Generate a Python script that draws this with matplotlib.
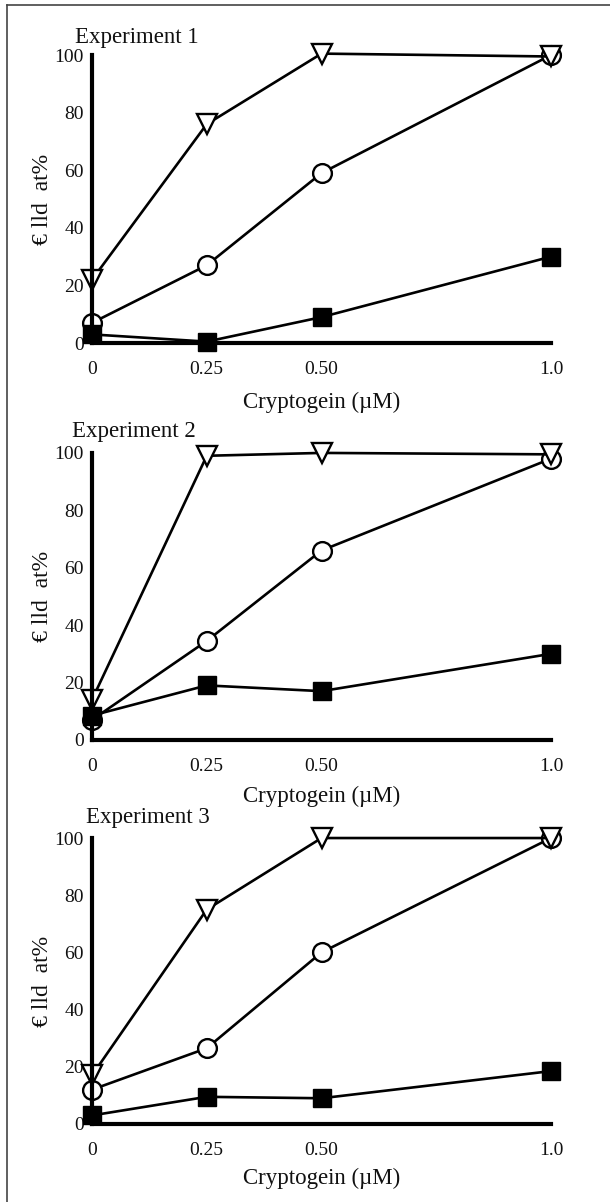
import numpy as np
import matplotlib.pyplot as plt
from matplotlib.lines import Line2D

# -------------------------
# Dane
# -------------------------
dose = [0, 0.25, 0.50, 1.0]
dose_labels = ['0', '0.25', '0.50', '1.0']
y_ticks = [0, 20, 40, 60, 80, 100]

experiments = ['Experiment 1', 'Experiment 2', 'Experiment 3']

triangle = [
    [22, 76, 100.5, 99.5],
    [14, 99, 100, 99.5],
    [17, 75, 100, 100],
]
circle = [
    [7, 27, 59, 100],
    [7, 34.5, 66, 98],
    [12, 26.5, 60, 100],
]
square = [
    [3, 0.5, 9, 30],
    [8.5, 19, 17, 30],
    [3, 9.5, 9, 18.5],
]

ylabel = '€ lld  at%'
xlabel = 'Cryptogein (µM)'

# -------------------------
# Wykres
# -------------------------
plt.rcParams['font.family'] = ['Liberation Serif', 'DejaVu Serif']

fig = plt.figure(figsize=(6.10, 12.02), dpi=100)

# ramka (tylko góra i lewa krawędź widoczne)
fig.add_artist(Line2D([7 / 610, 1.0], [1 - 5 / 1202, 1 - 5 / 1202],
                      transform=fig.transFigure, color='#444444', lw=1.2))
fig.add_artist(Line2D([7 / 610, 7 / 610], [0.0, 1 - 5 / 1202],
                      transform=fig.transFigure, color='#444444', lw=1.2))

bottoms = [0.7146, 0.3844, 0.0649]
heights = [0.2396, 0.2388, 0.2379]
pads = [10, 8, 6]
title_y = [38, 432, 817]
title_x = [75, 72, 86]

for i in range(3):
    ax = fig.add_axes([0.1508, bottoms[i], 0.7525, heights[i]])

    kw = dict(color='black', lw=1.9, clip_on=False)
    # kolejność rysowania: kółka, trójkąty, kwadraty
    ax.plot(dose, circle[i], marker='o', ms=13.5, mfc='white',
            mec='black', mew=1.7, zorder=3, **kw)
    ax.plot(dose, triangle[i], marker='v', ms=14.5, mfc='white',
            mec='black', mew=1.7, zorder=3.1, **kw)
    ax.plot(dose, square[i], marker='s', ms=13.5, mfc='black',
            mec='black', zorder=3.2, **kw)

    ax.set_xlim(0, 1.0)
    ax.set_ylim(0, 100)
    ax.set_xticks(dose)
    ax.set_xticklabels(dose_labels)
    ax.set_yticks(y_ticks)

    for s in ['top', 'right']:
        ax.spines[s].set_visible(False)
    for s in ['left', 'bottom']:
        ax.spines[s].set_linewidth(3)
        ax.spines[s].set_zorder(4)

    ax.tick_params(axis='both', length=0, labelsize=14, colors='#111111')
    ax.tick_params(axis='x', pad=13)
    ax.tick_params(axis='y', pad=6)

    ax.set_xlabel(xlabel, fontsize=16.5, labelpad=pads[i], color='#111111')
    ax.set_ylabel(ylabel, fontsize=17, labelpad=1, color='#111111')
    ax.patch.set_alpha(0)

    fig.text(title_x[i] / 610, 1 - title_y[i] / 1202, experiments[i],
             fontsize=16.5, color='#111111', ha='left', va='center')

plt.savefig('out.png', dpi=100)
